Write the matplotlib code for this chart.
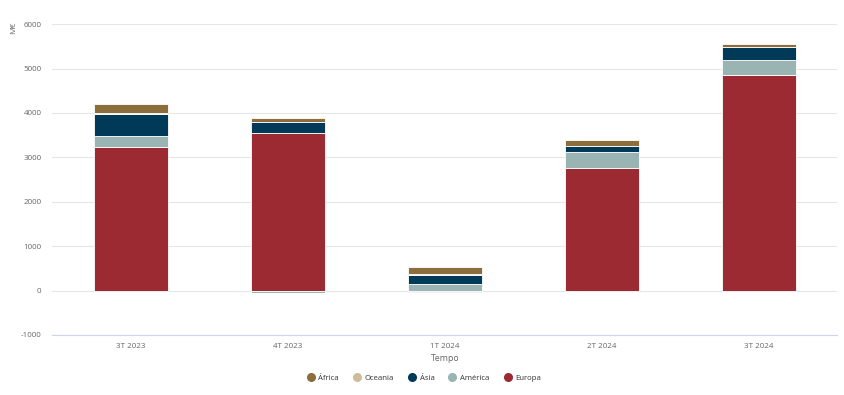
import numpy as np
import matplotlib.pyplot as plt
from matplotlib.lines import Line2D

plt.rcParams['font.family'] = ['Open Sans', 'DejaVu Sans']

# data (M€)
periods = ["3T 2023", "4T 2023", "1T 2024", "2T 2024", "3T 2024"]
europa = [3235, 3550, -30, 2755, 4845]
america = [255, -50, 140, 375, 345]
asia = [495, 245, 220, 120, 285]
oceania = [5, -10, 5, 5, 15]
africa = [215, 90, 170, 130, 65]

series = [("Europa", europa, "#9b2a33"),
          ("América", america, "#9ab4b4"),
          ("Ásia", asia, "#013a58"),
          ("Oceania", oceania, "#cdbd9c"),
          ("África", africa, "#8c6e3c")]

fig = plt.figure(figsize=(8.44, 3.95), dpi=100)
ax = fig.add_axes([0.0622, 0.152, 0.930, 0.787])

x = np.arange(len(periods))
pos_base = np.zeros(len(periods))
neg_base = np.zeros(len(periods))
for name, vals, color in series:
    vals = np.array(vals, dtype=float)
    base = np.where(vals >= 0, pos_base, neg_base)
    ax.bar(x, vals, bottom=base, width=0.47, color=color,
           edgecolor="white", linewidth=0.6, zorder=3)
    pos_base += np.where(vals >= 0, vals, 0)
    neg_base += np.where(vals < 0, vals, 0)

ax.set_xlim(-0.5, len(periods) - 0.5)
ax.set_ylim(-1000, 6000)
ax.set_yticks(range(-1000, 6001, 1000))
ax.set_yticklabels([str(v) for v in range(-1000, 6001, 1000)])
ax.set_xticks(x)
ax.set_xticklabels(periods)
ax.grid(axis="y", color="#e6e6e6", linewidth=0.8, zorder=0)
for s in ["top", "right", "left"]:
    ax.spines[s].set_visible(False)
ax.spines["bottom"].set_color("#ccd6eb")
ax.spines["bottom"].set_linewidth(0.8)
ax.tick_params(axis="both", length=0, labelsize=5.8, colors="#666666")
ax.tick_params(axis="y", pad=8)
ax.tick_params(axis="x", pad=6)

ax.set_xlabel("Tempo", fontsize=6.3, color="#666666", labelpad=3)
fig.text(0.016, 0.93, "M€", rotation=90, fontsize=6, color="#666666",
         ha="center", va="center")

handles = [Line2D([0], [0], marker="o", linestyle="", markersize=5.5,
                  markerfacecolor=c, markeredgecolor=c, label=n)
           for n, _, c in reversed(series)]
fig.legend(handles=handles, loc="center", bbox_to_anchor=(0.5, 0.043),
           ncol=5, frameon=False, fontsize=5.6, handletextpad=0.0,
           columnspacing=1.3, labelcolor="#333333")

fig.savefig("out.png", dpi=100, facecolor="white")
